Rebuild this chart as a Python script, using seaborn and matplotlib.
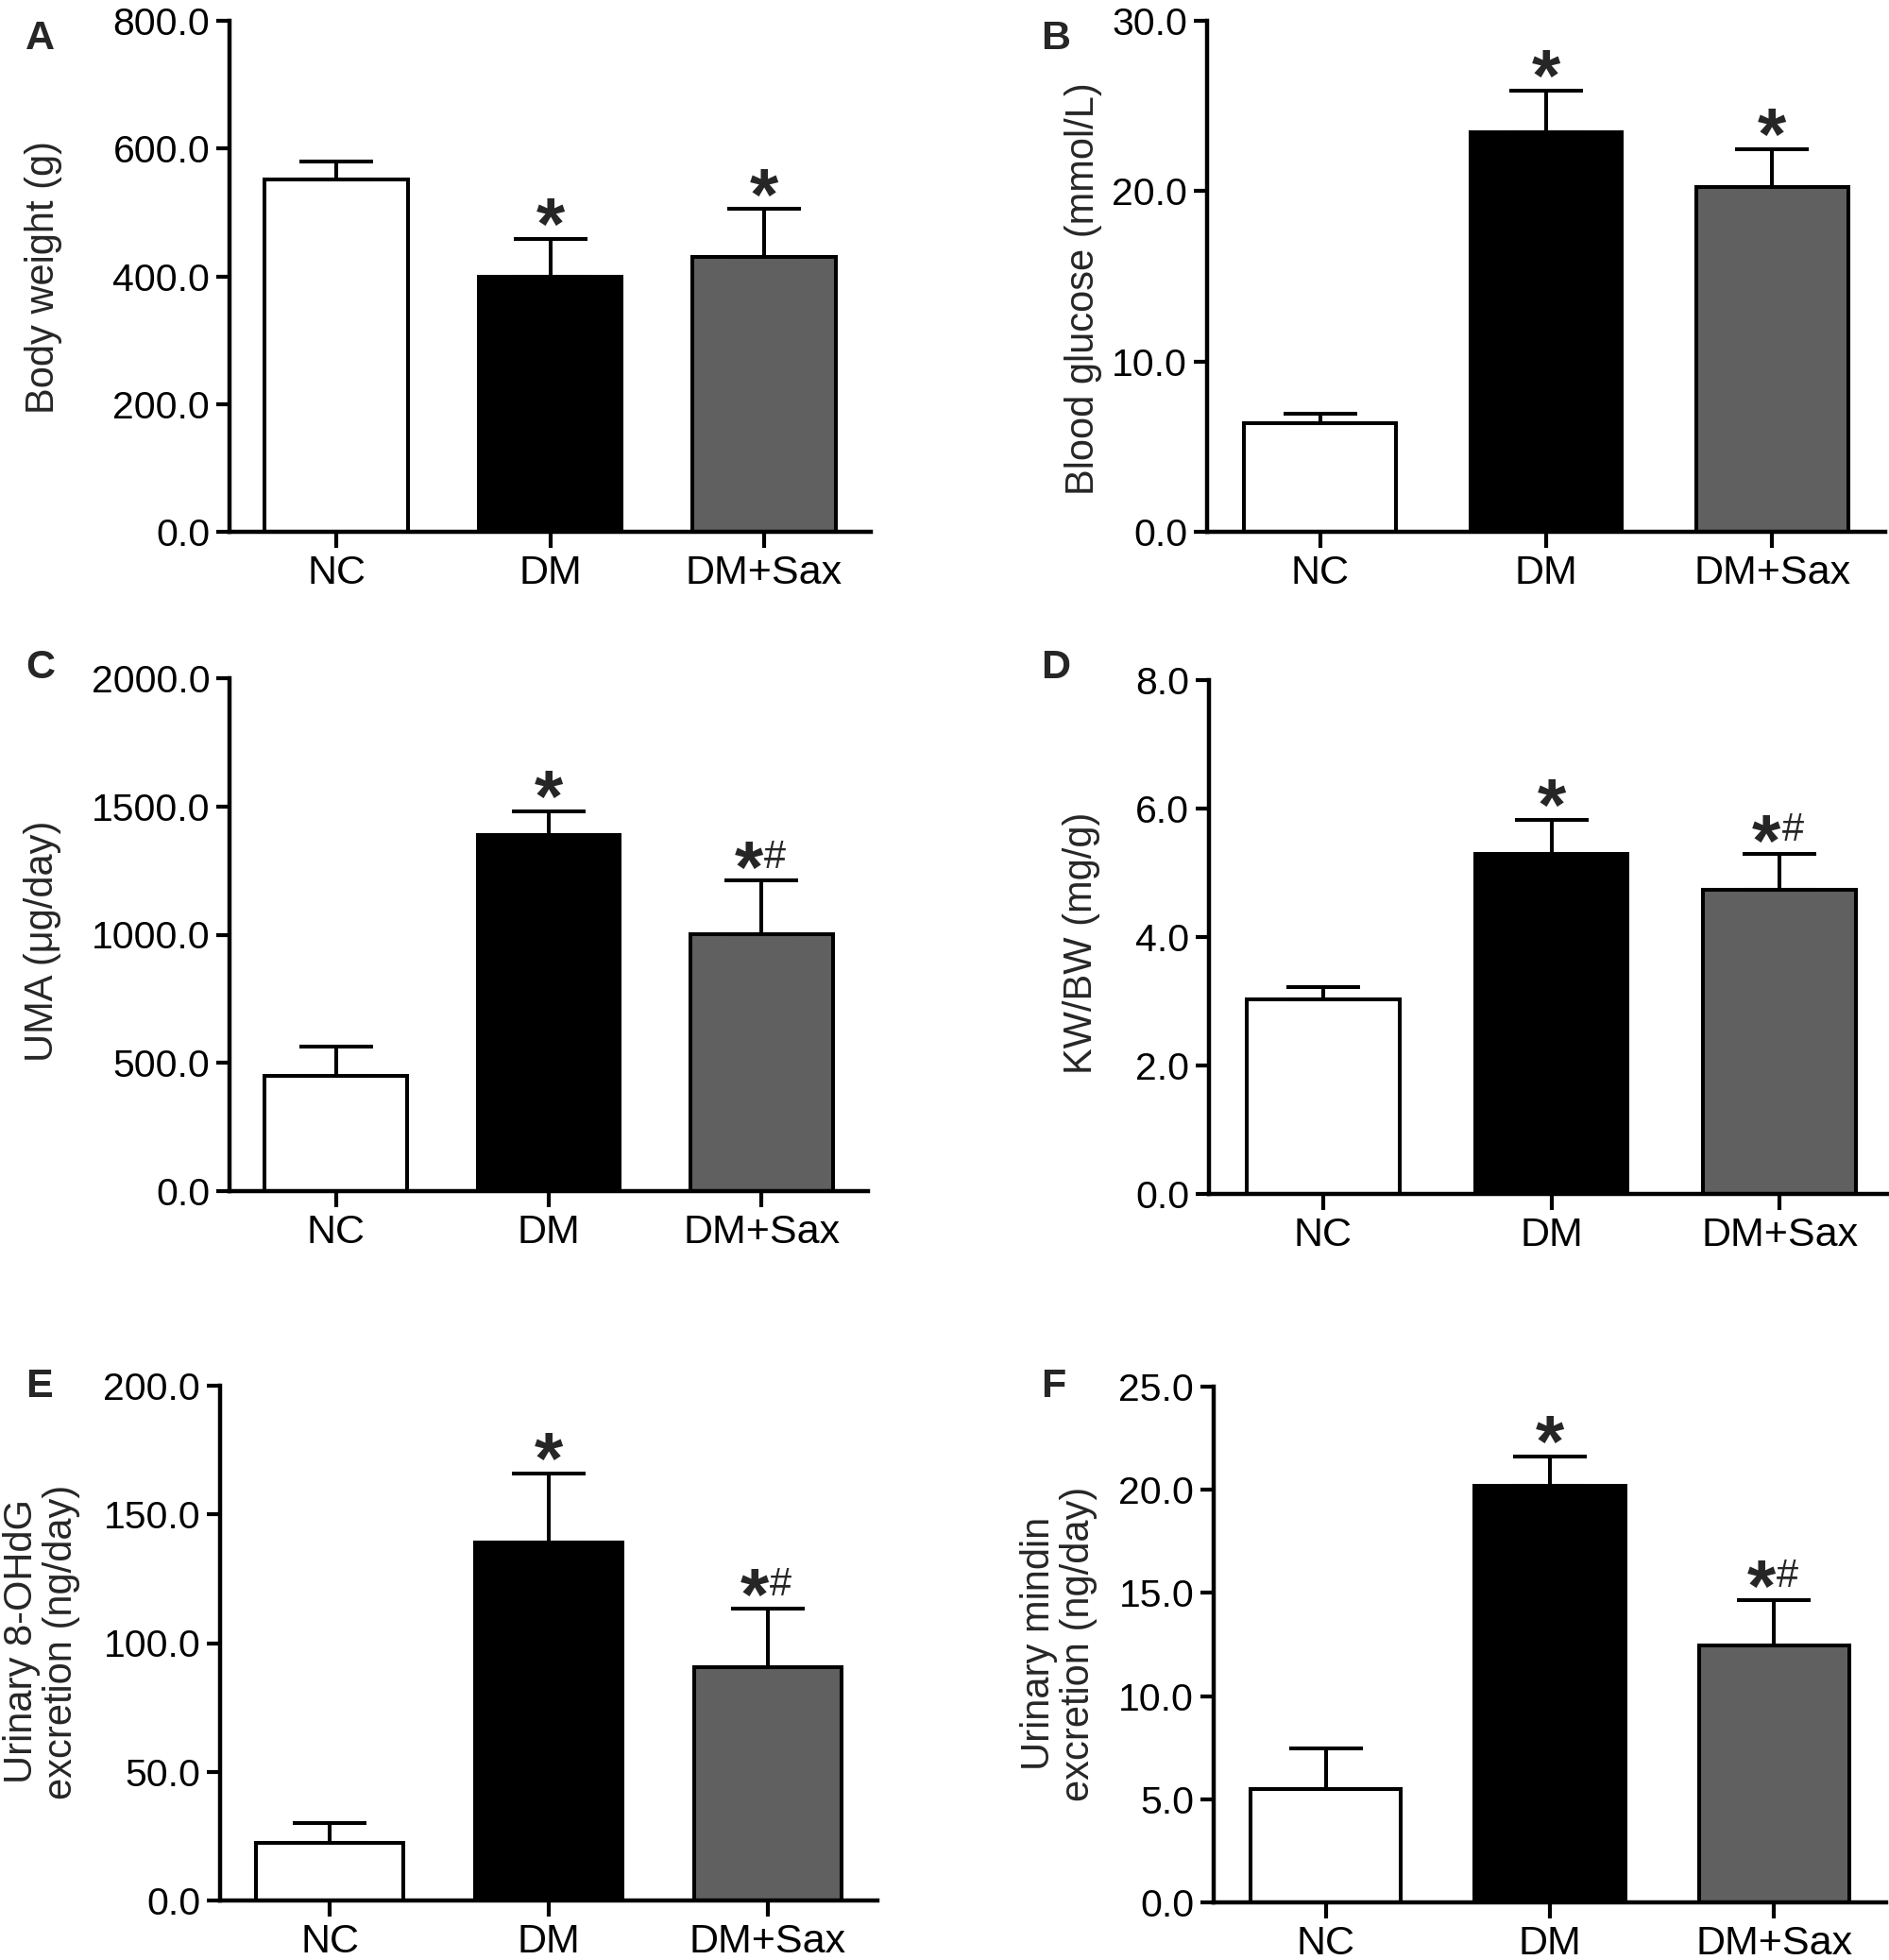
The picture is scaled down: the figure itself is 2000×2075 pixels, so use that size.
import numpy as np
import pandas as pd
import matplotlib
matplotlib.use("Agg")
import matplotlib.pyplot as plt
import seaborn as sns

# datos (media y error superior)
grupos = ["NC", "DM", "DM+Sax"]
colores = ["#ffffff", "#000000", "#606060"]

peso_media = [551, 399, 430]
peso_error = [28, 60, 75]

glucosa_media = [6.4, 23.45, 20.25]
glucosa_error = [0.55, 2.45, 2.2]

uma_media = [450, 1390, 1003]
uma_error = [112, 90, 207]

kwbw_media = [3.03, 5.29, 4.73]
kwbw_error = [0.19, 0.53, 0.56]

ohdg_media = [22.4, 139, 90.5]
ohdg_error = [7.8, 27, 23]

mindin_media = [5.48, 20.2, 12.46]
mindin_error = [2.0, 1.4, 2.2]

marcas_A = ["", "*", "*"]
marcas_B = ["", "*", "*"]
marcas_C = ["", "*", "*#"]
marcas_D = ["", "*", "*#"]
marcas_E = ["", "*", "*#"]
marcas_F = ["", "*", "*#"]

sns.set_style("ticks")
plt.rcParams["font.family"] = ["Liberation Sans", "DejaVu Sans"]

W, H = 2000, 2075
fig = plt.figure(figsize=(W / 100, H / 100), dpi=100)


def rect_px(x0, y0, x1, y1):
    return [x0 / W, 1 - y1 / H, (x1 - x0) / W, (y1 - y0) / H]


def fx_panel(rect, medias, errores, marcas, ymax, ypaso, etiqueta, letra, pos_letra, pos_etiqueta):
    ax = fig.add_axes(rect_px(*rect))
    df = pd.DataFrame({"grupo": grupos, "valor": medias})
    sns.barplot(data=df, x="grupo", y="valor", hue="grupo", palette=colores, legend=False,
                errorbar=None, width=0.67, saturation=1, edgecolor="black", linewidth=2.9, ax=ax)
    ax.errorbar(x=np.arange(3), y=medias, yerr=[np.zeros(3), errores], fmt="none",
                ecolor="black", elinewidth=2.9, capsize=28, capthick=2.9, clip_on=False)
    ax.set_xlim(-0.5, 2.5)
    ax.set_ylim(0, ymax)
    ax.set_yticks(np.arange(0, ymax + ypaso / 2, ypaso))
    ax.yaxis.set_major_formatter(matplotlib.ticker.FormatStrFormatter("%.1f"))
    ax.set_xlabel("")
    ax.set_ylabel("")
    sns.despine(ax=ax)
    for s in ["left", "bottom"]:
        ax.spines[s].set_linewidth(3.2)
        ax.spines[s].set_color("black")
    ax.tick_params(axis="y", length=10, width=3.0, labelsize=29.5, pad=5, colors="black")
    ax.tick_params(axis="x", length=12, width=3.0, labelsize=31, pad=5, colors="black")

    for i, m in enumerate(marcas):
        tope = medias[i] + errores[i]
        if m == "*":
            ax.annotate("*", (i, tope), xytext=(0, -8), textcoords="offset points",
                        ha="center", va="baseline", fontsize=56, fontweight="bold", annotation_clip=False)
        elif m == "*#":
            ax.annotate("*", (i, tope), xytext=(-10, -9), textcoords="offset points",
                        ha="center", va="baseline", fontsize=56, fontweight="bold", annotation_clip=False)
            ax.annotate("#", (i, tope), xytext=(10, 10), textcoords="offset points",
                        ha="center", va="baseline", fontsize=30, annotation_clip=False)

    fig.text(pos_etiqueta[0] / W, 1 - pos_etiqueta[1] / H, etiqueta, rotation=90, ha="center",
             va="center", fontsize=30, linespacing=1.08, multialignment="center")
    fig.text(pos_letra[0] / W, 1 - pos_letra[1] / H, letra, ha="left", va="top",
             fontsize=31, fontweight="bold")
    return ax


fx_panel((243, 22, 922, 563), peso_media, peso_error, marcas_A, 800, 200,
         "Body weight (g)", "A", (27, 21), (46, 293))
fx_panel((1278, 22, 1996, 563), glucosa_media, glucosa_error, marcas_B, 30, 10,
         "Blood glucose (mmol/L)", "B", (1102, 21), (1147, 306))
fx_panel((243, 718, 919, 1261), uma_media, uma_error, marcas_C, 2000, 500,
         "UMA (\u03bcg/day)", "C", (27, 687), (45, 996))
fx_panel((1280, 720, 2005, 1264), kwbw_media, kwbw_error, marcas_D, 8, 2,
         "KW/BW (mg/g)", "D", (1102, 687), (1145, 998))
fx_panel((233, 1467, 929, 2012), ohdg_media, ohdg_error, marcas_E, 200, 50,
         "Urinary 8-OHdG\nexcretion (ng/day)", "E", (27, 1448), (44, 1738))
fx_panel((1285, 1468, 1997, 2014), mindin_media, mindin_error, marcas_F, 25, 5,
         "Urinary mindin\nexcretion (ng/day)", "F", (1102, 1448), (1121, 1740))

fig.savefig("out.png", dpi=100, facecolor="white")
